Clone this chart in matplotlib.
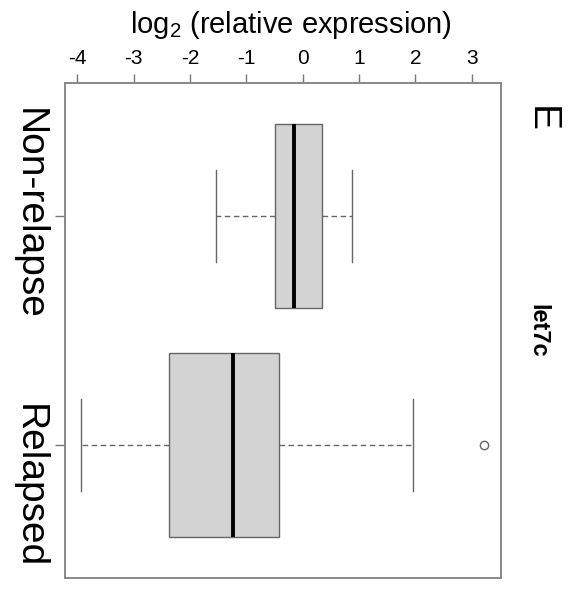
import matplotlib
matplotlib.use("Agg")
import matplotlib.pyplot as plt

plt.rcParams['font.family'] = ['Liberation Sans', 'DejaVu Sans']
plt.rcParams['mathtext.fontset'] = 'custom'
plt.rcParams['mathtext.rm'] = 'Liberation Sans'

# box summaries (log2 relative expression)
groups = ["Non-relapse", "Relapsed"]
whislo = [-1.54, -3.94]
q1 = [-0.49, -2.37]
med = [-0.15, -1.24]
q3 = [0.35, -0.42]
whishi = [0.87, 1.96]
fliers = [[], [3.22]]
xticks = [-4, -3, -2, -1, 0, 1, 2, 3]

W, H = 573, 602
fig = plt.figure(figsize=(W / 100, H / 100), dpi=100)
ax = fig.add_axes([65 / W, 1 - 578 / H, (501 - 65) / W, (578 - 83) / H])

stats = []
for i, g in enumerate(groups):
    stats.append(dict(label=g, whislo=whislo[i], q1=q1[i], med=med[i],
                      q3=q3[i], whishi=whishi[i], fliers=fliers[i]))

edge = "#666666"
ax.bxp(stats, positions=[1, 2], widths=0.8, capwidths=0.4,
       orientation="horizontal", patch_artist=True,
       boxprops=dict(facecolor="#d3d3d3", edgecolor=edge, linewidth=1.0),
       medianprops=dict(color="black", linewidth=2.8, solid_capstyle="butt"),
       whiskerprops=dict(color=edge, linewidth=1.0, linestyle=(0, (4, 2.5))),
       capprops=dict(color=edge, linewidth=1.0),
       flierprops=dict(marker="o", markersize=6, markerfacecolor="none",
                       markeredgecolor=edge, markeredgewidth=1.0))

ax.set_xlim(-4.22, 3.52)
ax.set_ylim(2.58, 0.42)
ax.set_xticks(xticks)
ax.set_xticklabels([str(t) for t in xticks])
ax.set_yticks([1, 2])
ax.set_yticklabels([])
ax.xaxis.tick_top()
ax.tick_params(axis="x", direction="out", length=6.5, width=1.0, color="#777777",
               labelsize=15, pad=4)
ax.tick_params(axis="y", direction="out", length=7, width=1.0, color="#777777")
for s in ax.spines.values():
    s.set_color("#888888")
    s.set_linewidth(1.4)

fig.text(291 / W, 1 - 33 / H, r"log$_\mathregular{2}$ (relative expression)",
         ha="center", va="baseline", fontsize=21)
fig.text(29 / W, 1 - 214 / H, "Non-relapse", rotation=-90,
         ha="center", va="center", fontsize=28)
fig.text(29 / W, 1 - 486.5 / H, "Relapsed", rotation=-90,
         ha="center", va="center", fontsize=28)
fig.text(541 / W, 1 - 119.5 / H, "E", rotation=-90,
         ha="center", va="center", fontsize=28)
fig.text(538 / W, 1 - 331 / H, "let7c", rotation=-90,
         ha="center", va="center", fontsize=17, fontweight="bold")

fig.savefig("out.png", dpi=100)
